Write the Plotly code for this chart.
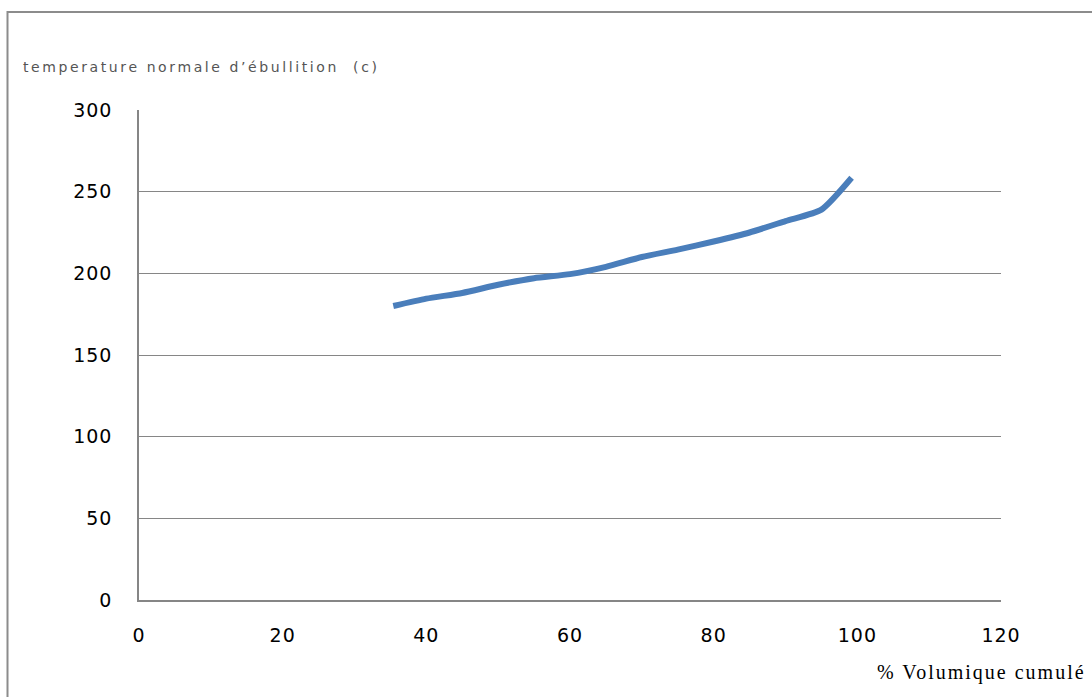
import plotly.graph_objects as go

volume_pct = [35.4, 40, 45, 50, 55, 60, 65, 70, 75, 80, 85, 90, 95, 99.2]
boiling_temp = [180, 184.5, 188, 193, 197, 199.5, 204, 210, 214.5, 219.5, 225, 232, 239, 258.5]

x_ticks = [0, 20, 40, 60, 80, 100, 120]
y_ticks = [0, 50, 100, 150, 200, 250, 300]

W, H = 1092, 697
L, R, T, B = 139, 91, 110, 97
pw, ph = W - L - R, H - T - B

def px(x):
    return (x - L) / pw

def py(y):
    return (H - B - y) / ph

def spaced(s, sp):
    return f'<span style="letter-spacing:{sp}px">{s}</span>'

fig = go.Figure()
fig.add_trace(go.Scatter(
    x=volume_pct, y=boiling_temp, mode="lines",
    line=dict(color="#4a7ebb", width=6, shape="spline", smoothing=0.6),
    showlegend=False, hoverinfo="x+y",
))

tick_font = dict(family="DejaVu Sans, Liberation Sans, sans-serif", size=19, color="black")

fig.update_layout(
    width=W, height=H,
    margin=dict(l=L, r=R, t=T, b=B),
    paper_bgcolor="white", plot_bgcolor="white",
    font=dict(family="DejaVu Sans, Liberation Sans, sans-serif", size=19, color="black"),
    xaxis=dict(range=[0, 120], tickvals=x_ticks, ticktext=[spaced(str(v), 1) for v in x_ticks],
               tickfont=tick_font,
               showgrid=False, showline=True, linecolor="#868686", linewidth=1.5,
               zeroline=False, ticks="", ticklabelstandoff=17, fixedrange=True),
    yaxis=dict(range=[0, 300], tickvals=y_ticks, ticktext=[spaced(str(v), 1) for v in y_ticks],
               tickfont=tick_font,
               showgrid=True, gridcolor="#868686", gridwidth=1.2,
               showline=True, linecolor="#868686", linewidth=1.5,
               zeroline=False, ticks="", ticklabelstandoff=21, fixedrange=True),
    shapes=[dict(type="rect", xref="paper", yref="paper",
                 x0=px(7.5), x1=px(1100), y0=py(12), y1=py(710),
                 line=dict(color="#8c8c8c", width=2), fillcolor="rgba(0,0,0,0)", layer="below")],
    annotations=[
        dict(text=spaced("temperature normale d’ébullition  (c)", 2.6), xref="paper", yref="paper",
             x=px(21), y=py(67), xanchor="left", yanchor="middle", showarrow=False,
             font=dict(family="DejaVu Sans, Liberation Sans, sans-serif", size=14, color="#555555")),
        dict(text=spaced("% Volumique cumulé", 2), xref="paper", yref="paper",
             x=px(1088), y=py(672), xanchor="right", yanchor="middle", showarrow=False,
             font=dict(family="Liberation Serif, Times New Roman, serif", size=20, color="black")),
    ],
)

fig.write_html("out.html", config={"displayModeBar": False},
               post_script="document.body.style.margin='0';")
